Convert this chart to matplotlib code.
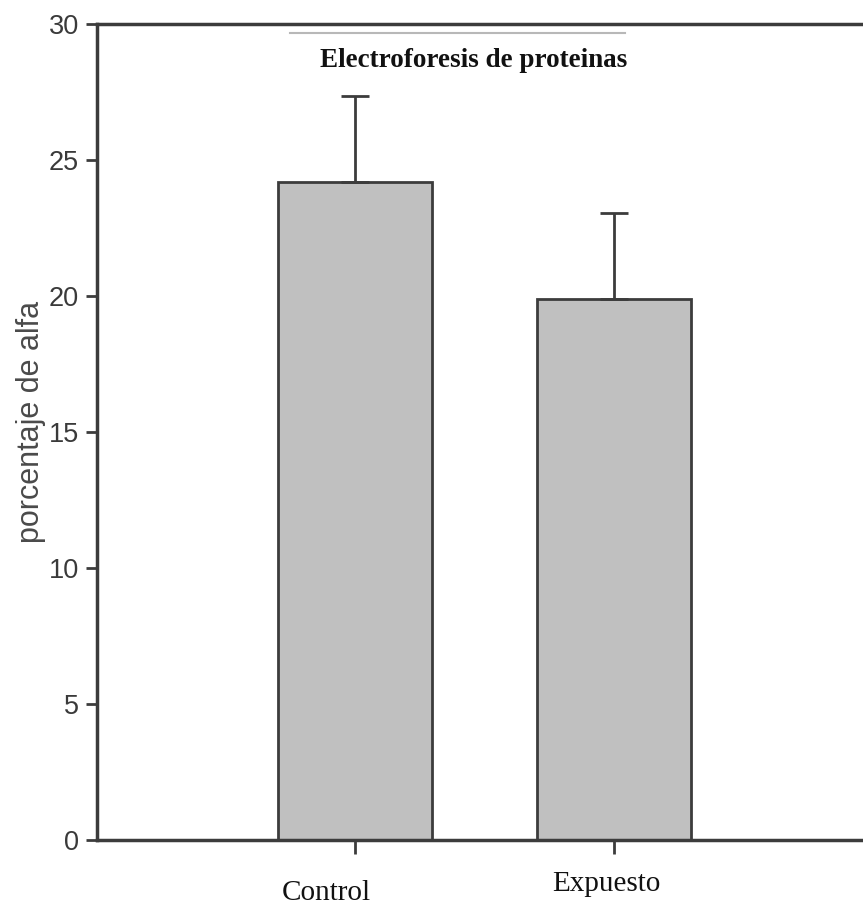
import matplotlib
matplotlib.use("Agg")
import matplotlib.pyplot as plt
from matplotlib import font_manager
import numpy as np

categories = ["Control", "Expuesto"]
means = [24.2, 19.9]
errors = [3.15, 3.15]
yticks = [0, 5, 10, 15, 20, 25, 30]
title = "Electroforesis de proteinas"
ylabel = "porcentaje de alfa"

names = {f.name for f in font_manager.fontManager.ttflist}
narrow = "Liberation Sans Narrow" if "Liberation Sans Narrow" in names else "Liberation Sans"

line_c = "#3c3c3c"
fig = plt.figure(figsize=(8.63, 9.11), dpi=100)
ax = fig.add_axes([0.1124, 0.0779, 0.8876, 0.8957])

x = np.arange(len(categories))
ax.bar(x, means, width=0.595, color="#c0c0c0", edgecolor=line_c, linewidth=2, zorder=2)
ax.errorbar(x, means, yerr=[np.zeros(len(means)), errors], fmt="none",
            ecolor=line_c, elinewidth=2, capsize=10, capthick=2, zorder=3)

ax.set_xlim(-0.996, 1.96)
ax.set_ylim(0, 30)
ax.set_yticks(yticks)
ax.set_yticklabels([str(v) for v in yticks], family=narrow, fontsize=19.5, color="#3a3a3a")
ax.set_xticks(x)
ax.set_xticklabels([])
ax.tick_params(axis="y", direction="out", length=8, width=2, color=line_c, pad=5)
ax.tick_params(axis="x", direction="out", length=10, width=2, color=line_c)

for s in ["left", "bottom", "top"]:
    ax.spines[s].set_linewidth(2.5)
    ax.spines[s].set_color(line_c)
ax.spines["right"].set_visible(False)

# offsets in points (1 pt = 100/72 px)
label_offsets = [(-0.11, -38), (-0.03, -32)]
for xi, cat, (dx, dy) in zip(x, categories, label_offsets):
    ax.annotate(cat, xy=(xi + dx, 0), xycoords="data", xytext=(0, dy),
                textcoords="offset points", ha="center", va="center",
                family="Liberation Serif", fontsize=21, color="#111111")

ax.text(0.492, 0.955, title, transform=ax.transAxes, ha="center", va="center",
        family="Liberation Serif", fontweight="bold", fontsize=19.5, color="#111111")
ax.plot([0.252, 0.689], [0.9885, 0.9885], transform=ax.transAxes,
        color="#b8b8b8", linewidth=1.5, clip_on=False)

fig.text(0.036, 0.537, ylabel, rotation=90, ha="center", va="center",
         family="Liberation Sans", fontsize=22, color="#4a4a4a")

fig.savefig("out.png", dpi=100)
